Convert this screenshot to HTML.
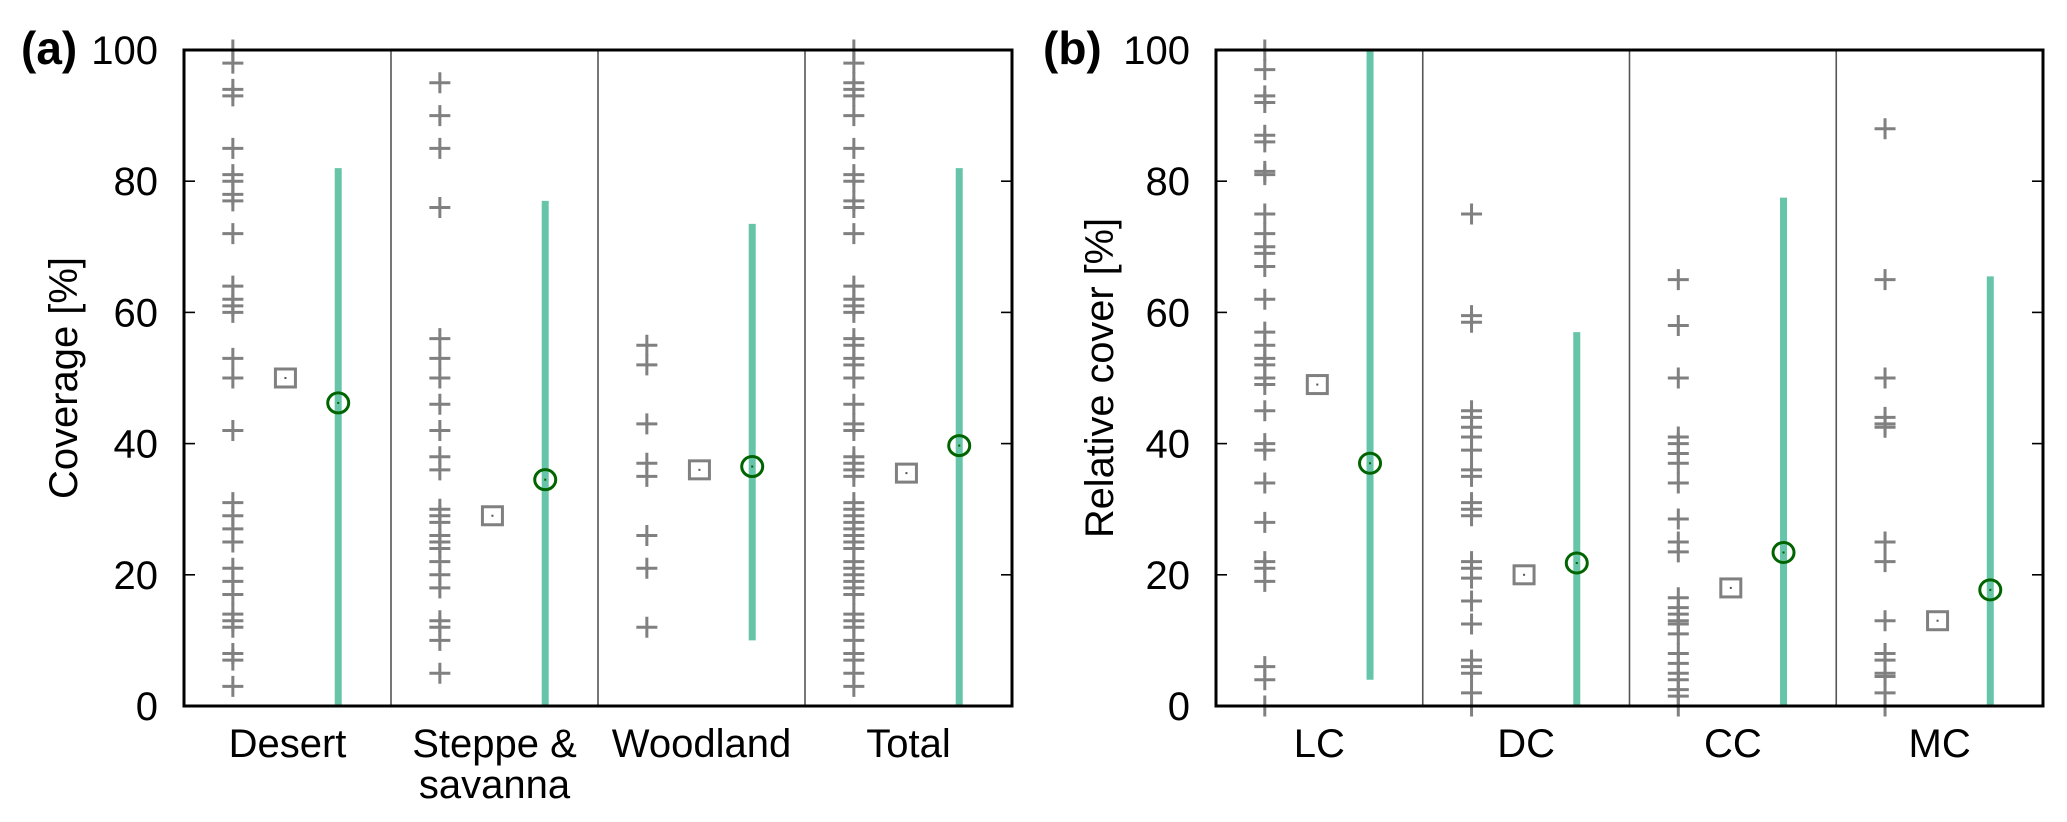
<!DOCTYPE html>
<html><head><meta charset="utf-8"><style>
html,body{margin:0;padding:0;background:#fff;}
svg{display:block;font-family:"Liberation Sans",sans-serif;}
</style></head><body>
<svg id="chart" width="2067" height="822" viewBox="0 0 2067 822"></svg>
<script>
const panelTitles = ["(a)", "(b)"];
const yTitles = ["Coverage [%]", "Relative cover [%]"];
const catsA = ["Desert", "Steppe &\nsavanna", "Woodland", "Total"];
const catsB = ["LC", "DC", "CC", "MC"];
const yTicks = [0, 20, 40, 60, 80, 100];
const pointsA = [
 [100,98,94,93,85,81,80,78,77,72,64,62,61,60,53,50,42,31,29,27,25,21,19,17,14,13,12,8,7,3],
 [95,90,85,76,56,53,50,46,42,38,36,30,29,28,26,25,24,22,20,18,13,12,10,5],
 [55,52,43,37,35,26,21,12],
 [100,98,95,94,93,90,85,81,80,77,76,72,64,62,61,60,56,55,53,52,50,46,43,42,38,37,36,35,31,30,29,28,27,26,25,24,22,21,20,19,18,17,14,13,12,10,8,7,5,3]
];
const meansA = [50, 29, 36, 35.5];
const circA = [46.2, 34.5, 36.5, 39.7];
const barLoA = [0, 0, 10, 0];
const barHiA = [82, 77, 73.5, 82];
const pointsB = [
 [100,97,93,92,87,86,81.5,81,75,72,70,69,67,62,57,55,53,52,50,49,45,40,39,34,28,22,21,19,6,4,0],
 [75,59.5,58.5,45,44,42.5,41,39,36,35,31,30,29,22,21,19.5,16,12.5,7,6,5,2,0],
 [65,58,50,41,40,38.5,37,34,28.5,25,23.5,16.5,15,14,13,12.5,11,8,6.5,5,4,2.5,1.5,0],
 [88,65,50,44,43,42.5,25,22,13,8,7,5,4.5,2,0]
];
const meansB = [49, 20, 18, 13];
const circB = [37, 21.8, 23.4, 17.7];
const barLoB = [4, 0, 0, 0];
const barHiB = [100, 57, 77.5, 65.5];

const NS = "http://www.w3.org/2000/svg";
const svg = document.getElementById("chart");
function mk(tag, attrs, parent) {
  const e = document.createElementNS(NS, tag);
  for (const k in attrs) e.setAttribute(k, attrs[k]);
  (parent || svg).appendChild(e);
  return e;
}
const Y0 = 706, Y100 = 50;
function yScale(v) { return Y0 - (v / 100) * (Y0 - Y100); }

function panel(left, right, cats, pts, means, circs, lo, hi, title, ytitle, titleX, ytX, tickX, ytLen, key) {
  const g = mk("g", {});
  
  
  const cw = (right - left) / cats.length;
  const xScale = (i, f) => left + cw * (i + f);
  for (let i = 1; i < cats.length; i++) {
    const d = mk("line", {x1: left + cw * i, x2: left + cw * i, y1: Y100, y2: Y0, stroke: "#555", "stroke-width": 1.6}, g);
    
    
  }
  yTicks.forEach(t => {
    const y = yScale(t);
    if (t > 0 && t < 100) {
      const l1 = mk("line", {x1: left, x2: left + 11, y1: y, y2: y, stroke: "#000", "stroke-width": 1.6}, g);
      
      
      const l2 = mk("line", {x1: right - 11, x2: right, y1: y, y2: y, stroke: "#000", "stroke-width": 1.6}, g);
      
      
    }
    const tx = mk("text", {x: tickX, y: y + 14, "text-anchor": "end", "font-size": 40, fill: "#000"}, g);
    tx.textContent = t;
    
    
  });
  cats.forEach((c, i) => {
    const px = xScale(i, 0.236);
    pts[i].forEach(v => {
      const y = yScale(v);
      const p = mk("path", {d: `M${px-10.5},${y}H${px+10.5}M${px},${y-10.5}V${y+10.5}`, stroke: "#808080", "stroke-width": 3, fill: "none"}, g);
      
      
    });
    const sx = xScale(i, 0.49), sy = yScale(means[i]);
    const sq = mk("rect", {x: sx - 10, y: sy - 9, width: 20, height: 18, fill: "none", stroke: "#808080", "stroke-width": 3}, g);
    
    
    mk("rect", {x: sx - 1, y: sy - 1, width: 2, height: 2, fill: "#555"}, g);
    const bx = xScale(i, 0.745);
    const bar = mk("line", {x1: bx, x2: bx, y1: yScale(lo[i]), y2: yScale(hi[i]), stroke: "#66c5a8", "stroke-width": 7}, g);
    
    
    const cy = yScale(circs[i]);
    const ci = mk("ellipse", {cx: bx, cy: cy, rx: 10.5, ry: 10, fill: "none", stroke: "#006400", "stroke-width": 3}, g);
    
    
    mk("rect", {x: bx - 1, y: cy - 1, width: 2, height: 2, fill: "#006400"}, g);
    const lines = c.split("\n");
    lines.forEach((ln, k) => {
      const t = mk("text", {x: xScale(i, 0.5), y: 757 + k * 41, "text-anchor": "middle", "font-size": 40, fill: "#000"}, g);
      t.textContent = ln;
      
      
    });
  });
  const fr = mk("rect", {x: left, y: Y100, width: right - left, height: Y0 - Y100, fill: "none", stroke: "#000", "stroke-width": 3}, g);
  
  
  const pt = mk("text", {x: titleX, y: 64, "font-size": 46, "font-weight": "bold", fill: "#000"}, g);
  pt.textContent = title;
  
  
  const yt = mk("text", {x: 0, y: 0, "text-anchor": "middle", "font-size": 40, textLength: ytLen, lengthAdjust: "spacingAndGlyphs", fill: "#000", transform: `translate(${ytX},${(Y0+Y100)/2}) rotate(-90)`}, g);
  yt.textContent = ytitle;
  
  
}
panel(184, 1012, catsA, pointsA, meansA, circA, barLoA, barHiA, panelTitles[0], yTitles[0], 21, 77, 158, 242, "a");
panel(1216, 2043, catsB, pointsB, meansB, circB, barLoB, barHiB, panelTitles[1], yTitles[1], 1043, 1113, 1190, 320, "b");
</script>
</body></html>
